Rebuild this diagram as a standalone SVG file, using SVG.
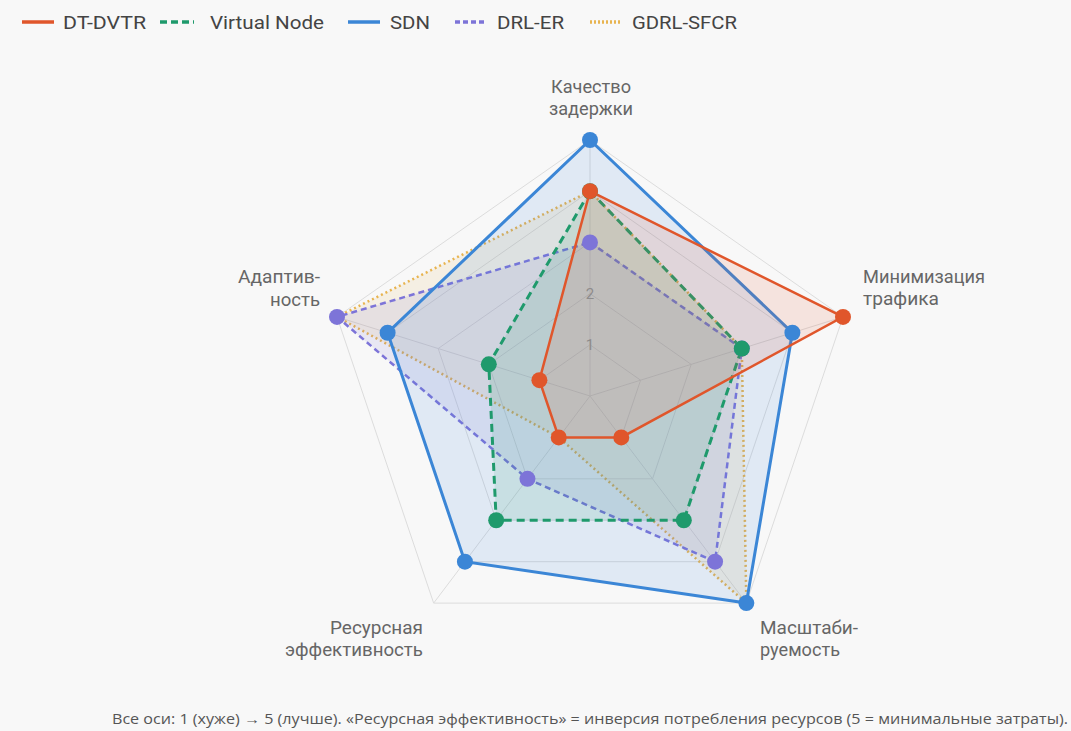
<svg xmlns="http://www.w3.org/2000/svg" width="1071" height="731" viewBox="0 0 1071 731">
<style>
.grid{fill:none;stroke:#dcdcdc;stroke-width:1}
.lbl{font-family:Roboto,"Liberation Sans",sans-serif;font-size:17.5px;fill:#666}
.leg{font-family:Roboto,"Liberation Sans",sans-serif;font-size:19px;fill:#444}
.tick{font-family:Roboto,"Liberation Sans",sans-serif;font-size:15px;fill:#999;text-anchor:middle}
.foot{font-family:"Open Sans","Noto Sans",sans-serif;font-size:14px;fill:#555}
.dt{stroke:#e0562b;stroke-width:2.5;fill:rgba(224,86,43,0.13)}
.vn{stroke:#1f9a6c;stroke-width:3;stroke-dasharray:8 5;fill:rgba(31,154,108,0.12)}
.sdn{stroke:#3b86d6;stroke-width:3;fill:rgba(59,134,214,0.13)}
.drl{stroke:#7d74d8;stroke-width:2.5;stroke-dasharray:6 4;fill:rgba(125,116,216,0.12)}
.gd{stroke:#e8b450;stroke-width:2.5;stroke-dasharray:2 3;fill:rgba(232,180,80,0.12)}
</style>
<rect width="1071" height="731" fill="#f8f8f8"/>
<g id="grid">
<polygon class="grid" points="590,344.8 640.6,380.18 621.27,437.42 558.73,437.42 539.4,380.18"/>
<polygon class="grid" points="590,293.6 691.2,364.36 652.54,478.84 527.46,478.84 488.8,364.36"/>
<polygon class="grid" points="590,242.4 741.8,348.54 683.81,520.26 496.19,520.26 438.2,348.54"/>
<polygon class="grid" points="590,191.2 792.4,332.72 715.08,561.68 464.92,561.68 387.6,332.72"/>
<polygon class="grid" points="590,140 843,316.9 746.35,603.1 433.65,603.1 337,316.9"/>
<path class="grid" d="M590,396 L590,140 M590,396 L843,316.9 M590,396 L746.35,603.1 M590,396 L433.65,603.1 M590,396 L337,316.9"/>
</g>
<g id="ticks">
<text class="tick" x="590" y="350">1</text>
<text class="tick" x="590" y="299">2</text>
</g>
<g id="connectors">
<polygon id="s-gdrl" class="gd" points="590,191.2 741.8,348.54 746.35,603.1 558.73,437.42 337,316.9"/>
<polygon id="s-drl" class="drl" points="590,242.4 741.8,348.54 715.08,561.68 527.46,478.84 337,316.9"/>
<polygon id="s-sdn" class="sdn" points="590,140 792.4,332.72 746.35,603.1 464.92,561.68 387.6,332.72"/>
<polygon id="s-vn" class="vn" points="590,191.2 741.8,348.54 683.81,520.26 496.19,520.26 488.8,364.36"/>
<polygon id="s-dt" class="dt" points="590,191.2 843,316.9 621.27,437.42 558.73,437.42 539.4,380.18"/>
</g>
<g id="points-drl" fill="#7d74d8">
<circle cx="590" cy="242.4" r="8"/><circle cx="741.8" cy="348.54" r="8"/><circle cx="715.08" cy="561.68" r="8"/><circle cx="527.46" cy="478.84" r="8"/><circle cx="337" cy="316.9" r="8"/>
</g>
<g id="points-sdn" fill="#3b86d6">
<circle cx="590" cy="140" r="8"/><circle cx="792.4" cy="332.72" r="8"/><circle cx="746.35" cy="603.1" r="8"/><circle cx="464.92" cy="561.68" r="8"/><circle cx="387.6" cy="332.72" r="8"/>
</g>
<g id="points-vn" fill="#1f9a6c">
<circle cx="590" cy="191.2" r="8"/><circle cx="741.8" cy="348.54" r="8"/><circle cx="683.81" cy="520.26" r="8"/><circle cx="496.19" cy="520.26" r="8"/><circle cx="488.8" cy="364.36" r="8"/>
</g>
<g id="points-dt" fill="#e0562b">
<circle cx="590" cy="191.2" r="8"/><circle cx="843" cy="316.9" r="8"/><circle cx="621.27" cy="437.42" r="8"/><circle cx="558.73" cy="437.42" r="8"/><circle cx="539.4" cy="380.18" r="8"/>
</g>
<g id="axis-labels">
<g id="ax-delay"><text class="lbl" x="591" y="93" text-anchor="middle" textLength="80" lengthAdjust="spacingAndGlyphs">Качество</text><text class="lbl" x="591" y="115" text-anchor="middle" textLength="84" lengthAdjust="spacingAndGlyphs">задержки</text></g>
<g id="ax-traffic"><text class="lbl" x="863" y="283" textLength="122" lengthAdjust="spacingAndGlyphs">Минимизация</text><text class="lbl" x="863" y="305" textLength="76" lengthAdjust="spacingAndGlyphs">трафика</text></g>
<g id="ax-scale"><text class="lbl" x="760" y="634" textLength="98" lengthAdjust="spacingAndGlyphs">Масштаби-</text><text class="lbl" x="760" y="656" textLength="80" lengthAdjust="spacingAndGlyphs">руемость</text></g>
<g id="ax-res"><text class="lbl" x="423" y="634" text-anchor="end" textLength="93" lengthAdjust="spacingAndGlyphs">Ресурсная</text><text class="lbl" x="423" y="656" text-anchor="end" textLength="138" lengthAdjust="spacingAndGlyphs">эффективность</text></g>
<g id="ax-adapt"><text class="lbl" x="320" y="283" text-anchor="end" textLength="82" lengthAdjust="spacingAndGlyphs">Адаптив-</text><text class="lbl" x="320" y="306" text-anchor="end" textLength="50" lengthAdjust="spacingAndGlyphs">ность</text></g>
</g>
<g id="legend">
<line x1="22" y1="22" x2="54" y2="22" stroke="#e0562b" stroke-width="3.5"/>
<text class="leg" x="63" y="29" textLength="83" lengthAdjust="spacingAndGlyphs">DT-DVTR</text>
<line x1="160" y1="22" x2="194" y2="22" stroke="#1f9a6c" stroke-width="3.5" stroke-dasharray="7 4"/>
<text class="leg" x="210" y="29" textLength="114" lengthAdjust="spacingAndGlyphs">Virtual Node</text>
<line x1="348" y1="22" x2="380" y2="22" stroke="#3b86d6" stroke-width="3.5"/>
<text class="leg" x="390" y="29" textLength="40" lengthAdjust="spacingAndGlyphs">SDN</text>
<line x1="455" y1="22" x2="486" y2="22" stroke="#7d74d8" stroke-width="3.5" stroke-dasharray="5 3"/>
<text class="leg" x="497" y="29" textLength="67" lengthAdjust="spacingAndGlyphs">DRL-ER</text>
<line x1="590" y1="22" x2="621" y2="22" stroke="#e8b450" stroke-width="3.5" stroke-dasharray="2 2"/>
<text class="leg" x="632" y="29" textLength="105" lengthAdjust="spacingAndGlyphs">GDRL-SFCR</text>
</g>
<text class="foot" x="112" y="724" textLength="956" lengthAdjust="spacingAndGlyphs">Все оси: 1 (хуже) → 5 (лучше). «Ресурсная эффективность» = инверсия потребления ресурсов (5 = минимальные затраты).</text>
</svg>
